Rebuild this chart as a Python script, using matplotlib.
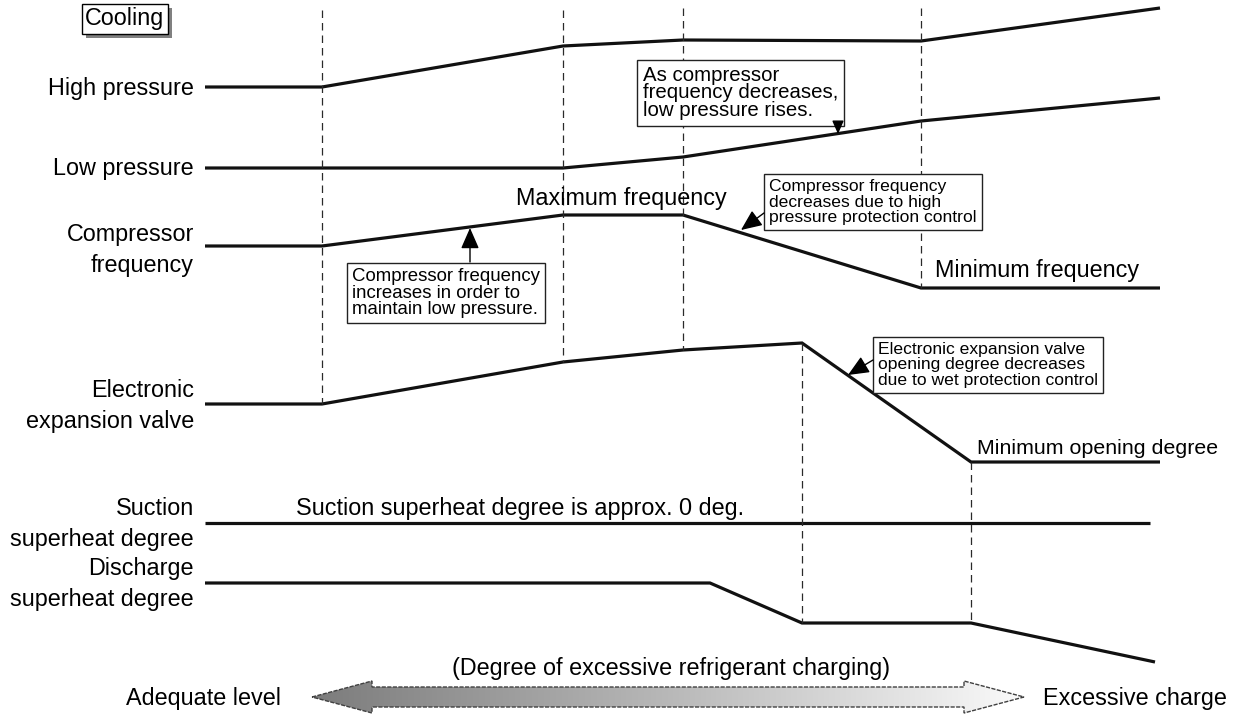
import numpy as np
import matplotlib
matplotlib.use("Agg")
import matplotlib.pyplot as plt
from matplotlib.patches import Polygon
from matplotlib.colors import LinearSegmentedColormap
import matplotlib.patheffects as pe

plt.rcParams['font.family'] = ['Liberation Sans', 'DejaVu Sans']

# Series breakpoints (schematic, in drawing units: x = charging level, y = level, down is lower)
hp_x = [205, 322, 563, 683, 921, 1160]
hp_y = [87, 87, 46, 40, 41, 8]
lp_x = [205, 563, 683, 921, 1160]
lp_y = [168, 168, 157, 121, 98]
cf_x = [205, 322, 563, 683, 921, 1160]
cf_y = [246, 246, 215, 215, 288, 288]
eev_x = [205, 322, 563, 683, 802, 971, 1160]
eev_y = [404, 404, 362, 350, 343, 462, 462]
ssh_x = [205, 1150]
ssh_y = [523, 523]
dsh_x = [205, 710, 802, 971, 1155]
dsh_y = [583, 583, 623, 623, 662]

# Event markers (dashed verticals): x, top, bottom
event_x = [322, 563, 683, 921, 802, 971]
event_top = [10, 10, 8, 8, 343, 462]
event_bottom = [404, 362, 350, 288, 623, 623]

series_labels = ["High pressure", "Low pressure", "Compressor\nfrequency",
                 "Electronic\nexpansion valve", "Suction\nsuperheat degree",
                 "Discharge\nsuperheat degree"]
label_y = [88, 168, 250, 406, 524, 584]

W, H = 1243, 715
fig = plt.figure(figsize=(W / 100, H / 100), dpi=100)
ax = fig.add_axes([0, 0, 1, 1])

line_kw = dict(color="#111111", lw=2.3, solid_capstyle="butt", solid_joinstyle="miter")
for xs, ys in [(hp_x, hp_y), (lp_x, lp_y), (cf_x, cf_y), (eev_x, eev_y),
               (ssh_x, ssh_y), (dsh_x, dsh_y)]:
    ax.plot(xs, ys, **line_kw)

for x, t, b in zip(event_x, event_top, event_bottom):
    ax.plot([x, x], [t, b], color="#2a2a2a", lw=0.9, linestyle=(0, (6, 4)))

for lab, y in zip(series_labels, label_y):
    ax.text(194, y, lab, ha="right", va="center", fontsize=16.8, linespacing=1.39)

# Cooling box with shadow
cool = ax.text(125, 19, "Cooling", ha="center", va="center", fontsize=16.8,
               bbox=dict(boxstyle="square,pad=0.14", fc="white", ec="black", lw=1.0))
cool.get_bbox_patch().set_path_effects([
    pe.SimplePatchShadow(offset=(3, -3), shadow_rgbFace="#808080", alpha=1.0), pe.Normal()])

# plain notes
ax.text(621, 198, "Maximum frequency", ha="center", va="center", fontsize=16.8)
ax.text(935, 271, "Minimum frequency", ha="left", va="center", fontsize=16.8)
ax.text(977, 448, "Minimum opening degree", ha="left", va="center", fontsize=15.4)
ax.text(296, 508, "Suction superheat degree is approx. 0 deg.", ha="left", va="center", fontsize=16.8)
ax.text(671, 668, "(Degree of excessive refrigerant charging)", ha="center", va="center", fontsize=16.8)
ax.text(281, 698, "Adequate level", ha="right", va="center", fontsize=16.8)
ax.text(1043, 698, "Excessive charge", ha="left", va="center", fontsize=16.8)

# boxed annotations with arrows
box_kw = dict(boxstyle="square,pad=0.28", fc="white", ec="#222222", lw=1.0)
small_box = dict(box_kw, boxstyle="square,pad=0.3")
arrow_kw = dict(arrowstyle="-|>,head_length=0.8,head_width=0.35", color="black",
                lw=1.0, shrinkA=0, shrinkB=0, mutation_scale=16)

ax.text(643, 93, "As compressor\nfrequency decreases,\nlow pressure rises.",
        ha="left", va="center", fontsize=14.7, linespacing=0.9, bbox=box_kw)
ax.annotate("", xy=(838, 134), xytext=(838, 126.5), arrowprops=dict(arrow_kw, mutation_scale=10))

ax.text(769, 202, "Compressor frequency\ndecreases due to high\npressure protection control",
        ha="left", va="center", fontsize=12.6, linespacing=1.05, bbox=small_box)
ax.annotate("", xy=(741, 230), xytext=(764, 213), arrowprops=arrow_kw)

ax.text(352, 293, "Compressor frequency\nincreases in order to\nmaintain low pressure.",
        ha="left", va="center", fontsize=13.4, linespacing=0.98, bbox=dict(small_box, boxstyle="square,pad=0.26"))
ax.annotate("", xy=(470, 228), xytext=(470, 262), arrowprops=arrow_kw)

ax.text(878, 365, "Electronic expansion valve\nopening degree decreases\ndue to wet protection control",
        ha="left", va="center", fontsize=12.6, linespacing=1.05, bbox=small_box)
ax.annotate("", xy=(848, 375), xytext=(873, 360), arrowprops=arrow_kw)

# big double-headed gradient arrow
a_l, a_r, a_cy = 312, 1024, 697
head_len, head_h, shaft_h = 60, 16, 10
verts = [(a_l, a_cy), (a_l + head_len, a_cy - head_h), (a_l + head_len, a_cy - shaft_h),
         (a_r - head_len, a_cy - shaft_h), (a_r - head_len, a_cy - head_h), (a_r, a_cy),
         (a_r - head_len, a_cy + head_h), (a_r - head_len, a_cy + shaft_h),
         (a_l + head_len, a_cy + shaft_h), (a_l + head_len, a_cy + head_h)]
poly = Polygon(verts, closed=True, fc="none", ec="#404040", lw=1.0, linestyle=(0, (3, 1)), zorder=3)
ax.add_patch(poly)
grad = np.linspace(0, 1, 256).reshape(1, -1)
cmap = LinearSegmentedColormap.from_list("g", ["#7c7c7c", "#b8b8b8", "#fafafa"])
im = ax.imshow(grad, cmap=cmap, extent=(a_l, a_r, a_cy + head_h, a_cy - head_h),
               aspect="auto", zorder=2)
im.set_clip_path(poly)

ax.set_xlim(0, W)
ax.set_ylim(H, 0)
ax.axis("off")
fig.savefig("out.png", dpi=100, facecolor="white")
